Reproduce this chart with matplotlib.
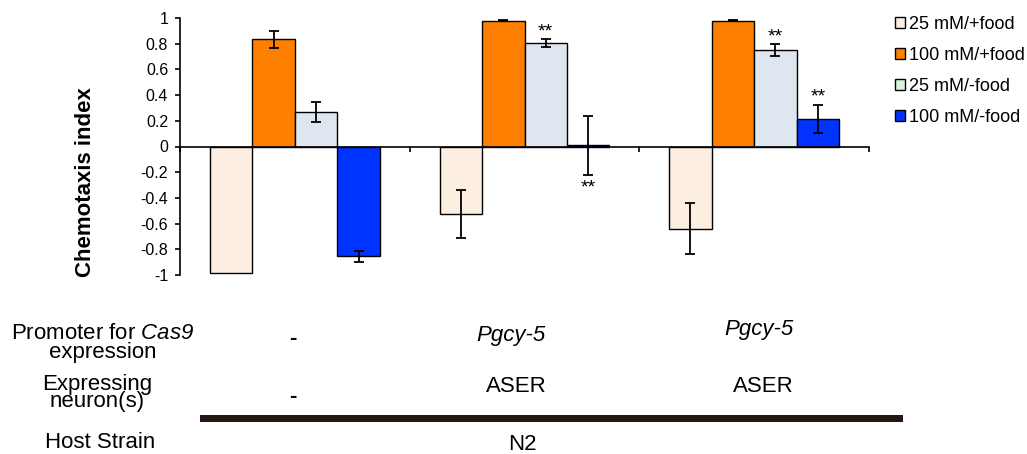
import numpy as np
import matplotlib
matplotlib.use("Agg")
import matplotlib.pyplot as plt
from matplotlib.patches import Patch, Rectangle

plt.rcParams["font.family"] = ["Liberation Sans", "DejaVu Sans"]
plt.rcParams["axes.unicode_minus"] = False
# math text only used for the italic gene name
plt.rcParams["mathtext.fontset"] = "custom"
plt.rcParams["mathtext.rm"] = "Liberation Sans:italic"
plt.rcParams["mathtext.it"] = "Liberation Sans:italic"

# data
conditions = ["25 mM/+food", "100 mM/+food", "25 mM/-food", "100 mM/-food"]
bar_colors = ["#FDEEE2", "#FF7F00", "#DEE6F0", "#0033FF"]
legend_colors = ["#FDEEE2", "#FF7F00", "#D9F2DC", "#0033FF"]
means = {
    "25 mM/+food": [-0.985, -0.525, -0.64],
    "100 mM/+food": [0.835, 0.98, 0.98],
    "25 mM/-food": [0.27, 0.805, 0.75],
    "100 mM/-food": [-0.855, 0.008, 0.215],
}
errors = {
    "25 mM/+food": [0.0, 0.19, 0.20],
    "100 mM/+food": [0.065, 0.005, 0.003],
    "25 mM/-food": [0.08, 0.03, 0.045],
    "100 mM/-food": [0.04, 0.23, 0.11],
}
# (condition, group, above/below)
stars = [("25 mM/-food", 1, 1), ("100 mM/-food", 1, -1),
         ("25 mM/-food", 2, 1), ("100 mM/-food", 2, 1)]

promoters = ["-", "Pgcy-5", "Pgcy-5"]
neurons = ["-", "ASER", "ASER"]
host = "N2"

W, H = 1027, 454
fig = plt.figure(figsize=(W / 100, H / 100), dpi=100)
ax = fig.add_axes([180 / W, 1 - 275 / H, 689 / W, 257 / H])

x = np.arange(3)
w = 0.185
for i, c in enumerate(conditions):
    pos = x + (i - 1.5) * w
    m = np.array(means[c])
    e = np.array(errors[c])
    ax.bar(pos, m, w, color=bar_colors[i], edgecolor="black", linewidth=1.0, zorder=2)
    k = e > 0
    ax.errorbar(pos[k], m[k], yerr=e[k], fmt="none", ecolor="black",
                elinewidth=1.3, capsize=3.8, capthick=1.3, zorder=3)

for c, g, d in stars:
    i = conditions.index(c)
    m, e = means[c][g], errors[c][g]
    yy = m + e + 0.06 if d > 0 else m - e - 0.1
    ax.text(g + (i - 1.5) * w, yy, "**", ha="center", va="center", fontsize=14)

ticks = np.round(np.arange(-1, 1.01, 0.2), 1)
ax.set_xlim(-0.5, 2.5)
ax.set_ylim(-1, 1)
ax.set_yticks(ticks)
ax.set_yticklabels([f"{v:g}" if v != 0 else "0" for v in ticks])
ax.set_xticks([-0.5, 0.5, 1.5, 2.5])
ax.set_xticklabels([])
ax.spines["top"].set_visible(False)
ax.spines["right"].set_visible(False)
ax.spines["bottom"].set_position(("data", 0))
ax.spines["left"].set_linewidth(1.2)
ax.spines["bottom"].set_linewidth(1.2)
ax.tick_params(axis="y", length=3.5, width=1.2, pad=5, labelsize=11.5)
ax.tick_params(axis="x", length=3.5, width=1.2, direction="out")
ax.set_ylabel("Chemotaxis index", fontsize=16, fontweight="bold")
ax.yaxis.set_label_coords(-0.122, 0.362)

handles = [Patch(facecolor=legend_colors[i], edgecolor="black", linewidth=1.0, label=c)
           for i, c in enumerate(conditions)]
fig.legend(handles=handles, loc="upper left", bbox_to_anchor=(895 / W, 1 - 16 / H),
           frameon=False, fontsize=13, handlelength=0.55, handleheight=0.55,
           handletextpad=0.25, labelspacing=0.78, borderpad=0, borderaxespad=0)


def ft(px, py, s, **kw):
    fig.text(px / W, 1 - py / H, s, ha="center", va="center", fontsize=16, **kw)


ft(103, 343, "Promoter for $\\mathrm{Cas9}$\nexpression", linespacing=0.85)
ft(97, 393, "Expressing\nneuron(s)", linespacing=0.75)
ft(100, 443, "Host Strain")

prom_xy = [(293, 338), (511, 335), (759, 330)]
for (px, py), s in zip(prom_xy, promoters):
    ft(px, py, s, style="normal" if s == "-" else "italic",
       fontweight="bold" if s == "-" else "normal")
neur_xy = [(293, 397), (516, 387), (763, 386)]
for (px, py), s in zip(neur_xy, neurons):
    ft(px, py, s, fontweight="bold" if s == "-" else "normal")
ft(522, 444, host)

fig.add_artist(Rectangle((200 / W, 1 - 421.5 / H), 703 / W, 7 / H,
                         transform=fig.transFigure, facecolor="#231815", edgecolor="none"))

fig.savefig("out.png", dpi=100)
